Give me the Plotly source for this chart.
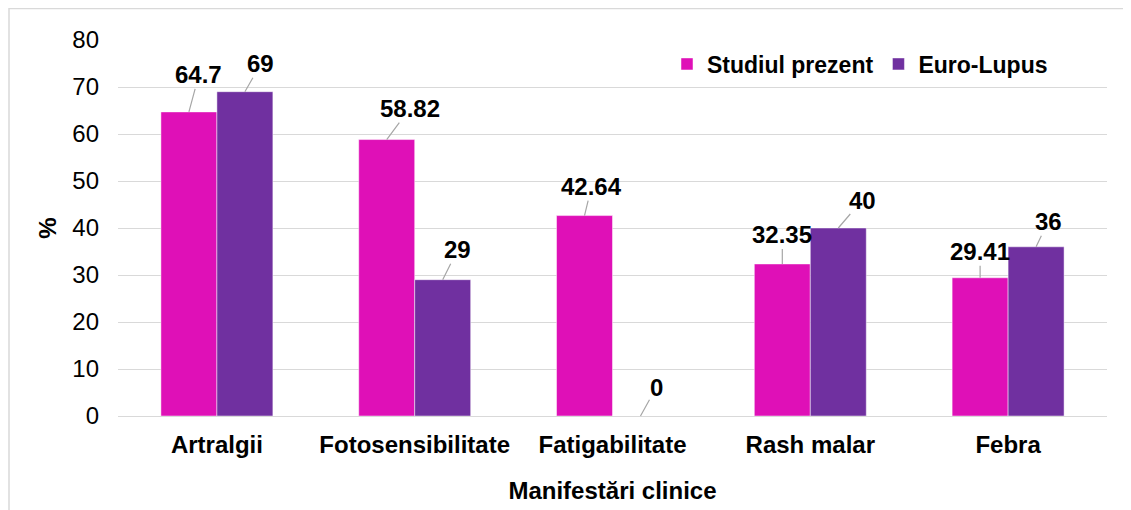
import plotly.graph_objects as go

categories = ["Artralgii", "Fotosensibilitate", "Fatigabilitate", "Rash malar", "Febra"]
studiul_prezent = [64.7, 58.82, 42.64, 32.35, 29.41]
euro_lupus = [69, 29, 0, 40, 36]
series_names = ["Studiul prezent", "Euro-Lupus"]
colors = ["#DF10B7", "#7030A0"]

# label leader offsets (px) for each bar: (ax, ay)
offsets_studiul = [(10, -37), (23, -31), (7, -29), (0, -29), (0, -26)]
offsets_euro = [(16, -28), (15, -30), (16, -29), (24, -28), (12, -25)]

FONT = "Arial, 'Liberation Sans', sans-serif"
FS = 24
PAGE_OFF = 8  # body margin of the html page
W, H = 1131 - PAGE_OFF, 510 - PAGE_OFF
L, R, T, B = 118 - PAGE_OFF, 24, 40 - PAGE_OFF, 94
bargap = 0.434

fig = go.Figure()
for name, vals, col in zip(series_names, [studiul_prezent, euro_lupus], colors):
    fig.add_trace(go.Bar(
        x=list(range(len(categories))), y=vals, name=f"<b>{name}</b>",
        marker=dict(color=col, line=dict(color="rgba(255,255,255,0.6)", width=0.8)),
    ))

half = (1 - bargap) / 4
annotations = []
for i in range(len(categories)):
    for vals, offs, sgn in [(studiul_prezent, offsets_studiul, -1), (euro_lupus, offsets_euro, 1)]:
        ax, ay = offs[i]
        annotations.append(dict(
            x=i + sgn * half, y=vals[i], xref="x", yref="y",
            text=f"<b>{vals[i]:g}</b>", showarrow=True, arrowhead=0,
            arrowcolor="#A6A6A6", arrowwidth=1.2, ax=ax, ay=ay,
            standoff=0, startstandoff=0, borderpad=0,
            font=dict(family=FONT, size=FS, color="#000000"),
        ))

pw = W - L - R
ph = H - T - B
fig.add_shape(type="rect", xref="paper", yref="paper",
              x0=(1 - L) / pw, x1=(W + 20 - L) / pw,
              y0=-(H + 20 - T - ph) / ph, y1=(H - B - 0.5) / ph,
              line=dict(color="#D9D9D9", width=1.5), fillcolor="rgba(0,0,0,0)", layer="below")

fig.update_layout(
    width=W, height=H,
    margin=dict(l=L, r=R, t=T, b=B, autoexpand=False),
    paper_bgcolor="white", plot_bgcolor="white",
    barmode="group", bargap=bargap, bargroupgap=0,
    font=dict(family=FONT, size=FS, color="#000000"),
    annotations=annotations,
    legend=dict(orientation="h", x=(667 - 118) / pw, xanchor="left",
                y=(416 - 64) / ph, yanchor="middle",
                font=dict(family=FONT, size=FS - 1, color="#000000"),
                bgcolor="rgba(0,0,0,0)", itemclick=False),
    showlegend=True,
)
fig.update_xaxes(
    tickmode="array", tickvals=list(range(len(categories))),
    ticktext=[f"<b>{c}</b>" for c in categories],
    range=[-0.5, len(categories) - 0.5],
    showgrid=False, showline=False, zeroline=False, ticks="",
    tickfont=dict(family=FONT, size=FS, color="#000000"),
    ticklabelstandoff=12,
    title=dict(text="<b>Manifestări clinice</b>", standoff=25,
               font=dict(family=FONT, size=FS, color="#000000")),
    automargin=False,
)
fig.update_yaxes(
    range=[0, 80], dtick=10, tick0=0,
    showgrid=True, gridcolor="#D9D9D9", gridwidth=1.4,
    zeroline=True, zerolinecolor="#D9D9D9", zerolinewidth=1.4,
    showline=False, ticks="",
    tickfont=dict(family=FONT, size=FS, color="#000000"),
    ticklabelstandoff=18,
    title=dict(text="<b>%</b>", standoff=8,
               font=dict(family=FONT, size=FS, color="#000000")),
    automargin=False,
)

fig.write_html("out.html")
